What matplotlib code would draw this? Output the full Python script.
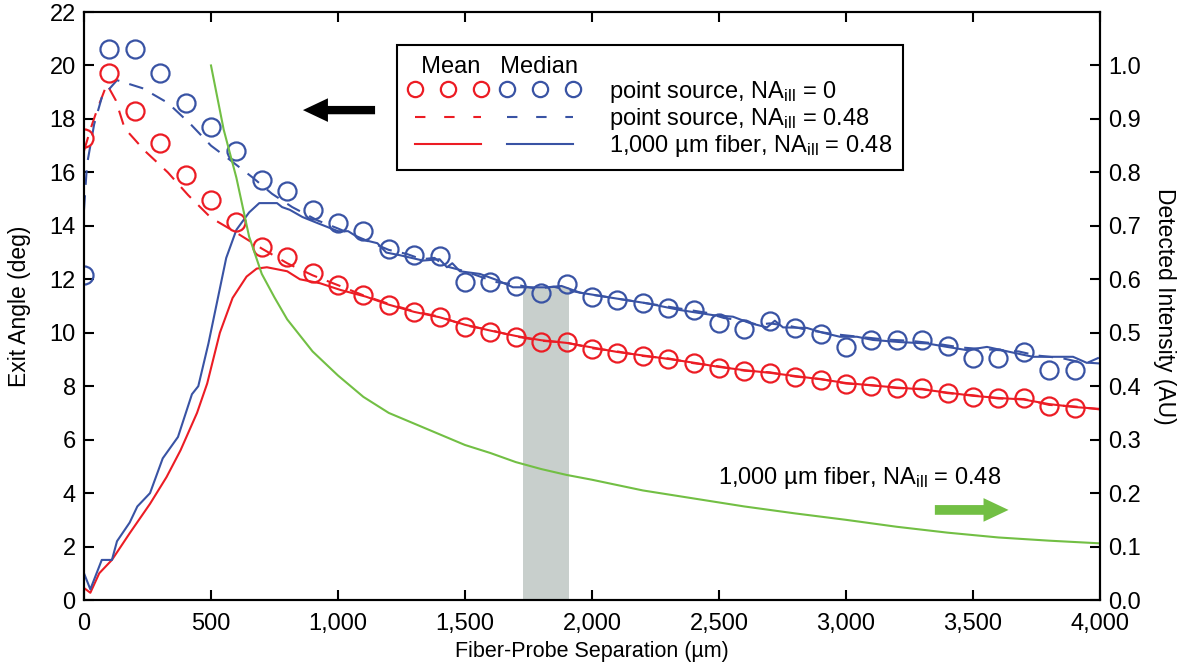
import matplotlib
matplotlib.use("Agg")
import matplotlib.pyplot as plt
from matplotlib.legend_handler import HandlerTuple
from matplotlib.lines import Line2D

plt.rcParams['font.family'] = ['Liberation Sans', 'DejaVu Sans']
plt.rcParams['mathtext.fontset'] = 'custom'
plt.rcParams['mathtext.rm'] = 'Liberation Sans'
plt.rcParams['mathtext.it'] = 'Liberation Sans:italic'

# --- donnees ---
x_circ = [0, 100, 200, 300, 400, 500, 600, 700, 800, 900,
          1000, 1100, 1200, 1300, 1400, 1500, 1600, 1700, 1800, 1900,
          2000, 2100, 2200, 2300, 2400, 2500, 2600, 2700, 2800, 2900,
          3000, 3100, 3200, 3300, 3400, 3500, 3600, 3700, 3800, 3900]
mean_point = [17.3, 19.7, 18.3, 17.1, 15.9, 14.96, 14.14, 13.2, 12.83, 12.23,
              11.8, 11.42, 11.05, 10.78, 10.6, 10.22, 10.03, 9.84, 9.66, 9.64,
              9.4, 9.25, 9.12, 9.02, 8.87, 8.68, 8.57, 8.49, 8.34, 8.23,
              8.08, 8.0, 7.93, 7.93, 7.74, 7.59, 7.56, 7.56, 7.26, 7.18]
median_point = [12.16, 20.6, 20.6, 19.7, 18.6, 17.7, 16.8, 15.7, 15.3, 14.6,
                14.1, 13.8, 13.15, 12.9, 12.87, 11.9, 11.9, 11.75, 11.49, 11.82,
                11.34, 11.22, 11.11, 10.92, 10.85, 10.38, 10.15, 10.45, 10.18, 9.95,
                9.47, 9.73, 9.73, 9.73, 9.5, 9.05, 9.05, 9.28, 8.6, 8.6]

# point source NA 0.48 (tirets)
x_mean_dash = [0, 25, 50, 90, 125, 160, 240, 330, 410, 500, 590, 700, 800, 900,
               1000, 1100, 1200, 1300, 1400, 1500, 1600, 1700, 1800, 1900,
               2000, 2100, 2200, 2300, 2400, 2500, 2600, 2700, 2800, 2900,
               3000, 3100, 3200, 3300, 3400, 3500, 3600, 3700, 3800, 3900, 4000]
mean_dash = [16.8, 17.6, 18.3, 19.3, 18.7, 17.65, 16.8, 16.0, 15.15, 14.3, 13.8, 13.15, 12.6, 12.15,
             11.78, 11.4, 11.08, 10.8, 10.6, 10.28, 10.1, 9.86, 9.7, 9.63,
             9.42, 9.3, 9.13, 9.04, 8.86, 8.74, 8.58, 8.52, 8.36, 8.27,
             8.1, 8.04, 7.93, 7.9, 7.74, 7.66, 7.54, 7.52, 7.3, 7.24, 7.13]
x_median_dash = [0, 12, 40, 70, 130, 230, 330, 420, 500, 570, 665, 740, 820, 920,
                 1000, 1075, 1150, 1200, 1270, 1330, 1380, 1420, 1500, 1560, 1620,
                 1700, 1780, 1850, 1900, 1980, 2050, 2150, 2250, 2350, 2450, 2520,
                 2600, 2650, 2700, 2780, 2850, 2950, 3050, 3150, 3250, 3350, 3450,
                 3520, 3600, 3680, 3750, 3850, 3920, 4000]
median_dash = [14.6, 16.3, 17.8, 18.8, 19.45, 19.15, 18.6, 17.8, 17.0, 16.5, 15.8, 15.2, 14.7, 14.2,
               13.9, 13.6, 13.3, 13.1, 12.95, 12.75, 12.8, 12.5, 12.3, 12.1, 11.9,
               11.8, 11.65, 11.72, 11.6, 11.45, 11.35, 11.2, 11.05, 10.9, 10.75, 10.55,
               10.45, 10.3, 10.35, 10.25, 10.1, 9.95, 9.85, 9.75, 9.7, 9.6, 9.45,
               9.4, 9.35, 9.3, 9.15, 9.05, 8.9, 8.85]

# fibre 1000 um, NA 0.48 (traits pleins)
x_mean_fib = [0, 25, 60, 110, 180, 260, 325, 380, 445, 485, 535, 585, 640, 680, 720,
              800, 850, 930, 1010, 1110, 1200, 1300, 1400, 1500, 1600, 1700, 1800,
              1900, 2000, 2100, 2200, 2300, 2400, 2500, 2600, 2700, 2800, 2900,
              3000, 3100, 3200, 3300, 3400, 3500, 3600, 3700, 3800, 3900, 4000]
mean_fib = [0.45, 0.27, 1.0, 1.5, 2.5, 3.6, 4.6, 5.6, 7.0, 8.1, 10.0, 11.3, 12.1, 12.4, 12.45,
            12.3, 12.0, 11.85, 11.6, 11.35, 11.05, 10.78, 10.58, 10.3, 10.08, 9.88, 9.72,
            9.62, 9.45, 9.28, 9.15, 9.02, 8.88, 8.72, 8.6, 8.5, 8.38, 8.26,
            8.12, 8.03, 7.95, 7.88, 7.76, 7.64, 7.56, 7.5, 7.33, 7.22, 7.15]
x_median_fib = [0, 25, 70, 110, 130, 180, 210, 260, 310, 370, 425, 450, 490, 525, 560,
                600, 650, 690, 760, 780, 810, 860, 920, 1000, 1040, 1090, 1155, 1190,
                1244, 1335, 1400, 1429, 1450, 1480, 1559, 1626, 1689, 1756, 1823, 1880,
                1953, 2083, 2217, 2346, 2476, 2555, 2622, 2689, 2720, 2752, 2846, 2909,
                2976, 3043, 3106, 3213, 3319, 3398, 3476, 3555, 3646, 3736, 3803, 3894,
                3949, 3992]
median_fib = [1.0, 0.4, 1.5, 1.5, 2.2, 2.9, 3.5, 4.0, 5.3, 6.1, 7.7, 8.0, 9.6, 11.2, 12.8,
              13.85, 14.5, 14.85, 14.85, 14.7, 14.6, 14.33, 14.1, 13.8, 13.8, 13.5, 13.35, 13.0,
              12.9, 12.7, 12.75, 12.45, 12.6, 12.3, 12.2, 11.97, 11.7, 11.7, 11.7, 11.75,
              11.5, 11.3, 11.1, 10.85, 10.66, 10.6, 10.36, 10.2, 10.45, 10.2, 10.18, 10.0,
              9.85, 9.85, 9.73, 9.65, 9.6, 9.47, 9.35, 9.47, 9.28, 9.1, 9.1, 9.1,
              8.87, 9.05]

# intensite detectee (axe de droite)
x_int = [500, 550, 600, 650, 700, 750, 800, 900, 1000, 1100, 1200, 1300, 1400, 1500,
         1600, 1700, 1800, 1900, 2000, 2200, 2400, 2600, 2800, 3000, 3200, 3400,
         3600, 3800, 4000]
intensity = [1.0, 0.88, 0.79, 0.68, 0.61, 0.566, 0.525, 0.465, 0.42, 0.38, 0.35, 0.33,
             0.31, 0.29, 0.275, 0.258, 0.245, 0.234, 0.225, 0.205, 0.19, 0.175, 0.162,
             0.15, 0.137, 0.126, 0.117, 0.111, 0.106]

# bande grise
band_x = [1730, 1910]
band_top = 11.7

xticks = [0, 500, 1000, 1500, 2000, 2500, 3000, 3500, 4000]
xticklabels = ['0', '500', '1,000', '1,500', '2,000', '2,500', '3,000', '3,500', '4,000']
yticks = list(range(0, 23, 2))
y2ticks = [i / 10 for i in range(11)]

RED = '#ec1c24'
BLUE = '#3953a4'
GREEN = '#72bf44'
GRAY = '#c8cfcc'

fig = plt.figure(figsize=(11.88, 6.71), dpi=100)
ax = fig.add_axes([0.0707, 0.1058, 0.8552, 0.8763])
ax2 = ax.twinx()

ax.bar((band_x[0] + band_x[1]) / 2, band_top, width=band_x[1] - band_x[0],
       color=GRAY, zorder=0, linewidth=0)

lw = 1.5
dash = (7, 5)
ax.plot(x_mean_dash, mean_dash, color=RED, lw=lw, dashes=dash)
ax.plot(x_median_dash, median_dash, color=BLUE, lw=lw, dashes=dash)
ax.plot(x_mean_fib, mean_fib, color=RED, lw=lw)
ax.plot(x_median_fib, median_fib, color=BLUE, lw=lw)
ax.plot(x_circ, mean_point, 'o', ms=13, mfc='none', mec=RED, mew=1.6)
ax.plot(x_circ, median_point, 'o', ms=13, mfc='none', mec=BLUE, mew=1.6)

ax2.plot(x_int, intensity, color=GREEN, lw=lw)

ax.set_xlim(0, 4000)
ax.set_ylim(0, 22)
ax2.set_ylim(0, 1.1)
ax.set_xticks(xticks)
ax.set_xticklabels(xticklabels)
ax.set_yticks(yticks)
ax2.set_yticks(y2ticks)
ax2.set_yticklabels(['%.1f' % v for v in y2ticks])

fs = 17
for a in (ax, ax2):
    a.tick_params(direction='in', length=7, width=1.5, labelsize=fs, pad=6)
    for s in a.spines.values():
        s.set_linewidth(1.5)
ax.tick_params(axis='x', top=True, labeltop=False, pad=9)

ax.set_xlabel('Fiber-Probe Separation (\u00b5m)', fontsize=15.5, labelpad=5)
ax.set_ylabel('Exit Angle (deg)', fontsize=16.5, labelpad=13)
ax2.set_ylabel('Detected Intensity (AU)', fontsize=16.5, rotation=270, labelpad=25)

# fleches
ax.annotate('', xy=(862, 18.33), xytext=(1146, 18.33),
            arrowprops=dict(facecolor='black', edgecolor='none', width=6,
                            headwidth=17, headlength=18, shrink=0))
ax.annotate('', xy=(3640, 3.37), xytext=(3350, 3.37),
            arrowprops=dict(facecolor=GREEN, edgecolor='none', width=7,
                            headwidth=17, headlength=18, shrink=0))
ax.text(2496, 4.56, '1,000 \u00b5m fiber, NA$_{\\rm ill}$ = 0.48', fontsize=fs,
        ha='left', va='center')

# legende
h_circ = (Line2D([], [], ls='none', marker='o', ms=11, mfc='none', mec=RED, mew=1.6),
          Line2D([], [], ls='none', marker='o', ms=11, mfc='none', mec=BLUE, mew=1.6))
h_dash = (Line2D([], [], color=RED, lw=lw, dashes=(5, 9)),
          Line2D([], [], color=BLUE, lw=lw, dashes=(5, 9)))
h_fib = (Line2D([], [], color=RED, lw=lw), Line2D([], [], color=BLUE, lw=lw))
leg = ax2.legend([h_circ, h_dash, h_fib],
                 ['point source, NA$_{\\rm ill}$ = 0',
                  'point source, NA$_{\\rm ill}$ = 0.48',
                  '1,000 \u00b5m fiber, NA$_{\\rm ill}$ = 0.48'],
                 handler_map={tuple: HandlerTuple(ndivide=None, pad=0.5)},
                 numpoints=3, handlelength=7.3, handletextpad=1.25,
                 loc='upper left', bbox_to_anchor=(0.308, 0.944), borderaxespad=0,
                 fontsize=fs, fancybox=False, framealpha=1, edgecolor='black',
                 labelspacing=0.05, borderpad=0.45,
                 title='  Mean   Median', title_fontsize=fs, alignment='left')
leg.get_frame().set_linewidth(1.5)

fig.savefig('out.png', dpi=100)
